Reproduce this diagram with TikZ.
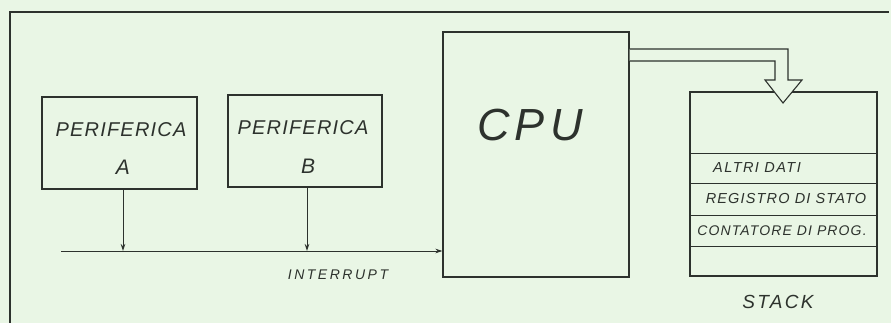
\documentclass[tikz,border=0pt]{standalone}
\usepackage{fontspec}
\usetikzlibrary{arrows.meta}
\newfontfamily\hand{Liberation Sans}[LetterSpace=6]
\definecolor{paper}{RGB}{233,246,229}
\definecolor{ink}{RGB}{45,50,45}
\begin{document}
\begin{tikzpicture}[x=1pt,y=-1pt,
  box/.style={draw=ink,line width=1.1pt,rectangle,inner sep=0pt},
  lbl/.style={text=ink,inner sep=0pt,font=\hand\itshape},
  sig/.style={draw=ink,line width=1pt,-{Stealth[length=7pt,width=4.5pt]}}]
\useasboundingbox (0,0) rectangle (891,323);
\fill[paper] (0,0) rectangle (891,323);
% frame
\draw[ink,line width=1.1pt] (10,323) -- (10,12) -- (889,12);
% peripherals
\node[box,minimum width=155pt,minimum height=92pt] (pa) at (119.5,143) {};
\node[box,minimum width=154pt,minimum height=92pt] (pb) at (305,141) {};
\node[lbl,font=\hand\itshape\fontsize{20}{20}\selectfont] (pat) at (121,130) {PERIFERICA};
\node[lbl,font=\hand\itshape\fontsize{21}{21}\selectfont] (paa) at (123,167) {A};
\node[lbl,font=\hand\itshape\fontsize{20}{20}\selectfont] (pbt) at (303,128) {PERIFERICA};
\node[lbl,font=\hand\itshape\fontsize{21}{21}\selectfont] (pbb) at (308,166) {B};
% CPU
\node[box,minimum width=186pt,minimum height=245pt] (cpu) at (536,154.5) {};
\node[lbl,font=\hand\itshape\fontsize{45}{45}\selectfont\addfontfeature{LetterSpace=12}] (cput) at (530,125) {CPU};
% stack
\node[box,minimum width=187pt,minimum height=184pt] (st) at (783.5,184) {};
\foreach \yy/\nm in {153/d1,183/d2,215/d3,246/d4}{
  \coordinate (\nm) at (690,\yy);
  \draw[ink,line width=0.9pt] (\nm) -- (\nm -| st.east);
}
\node[lbl,font=\hand\itshape\fontsize{14.5}{14.5}\selectfont\addfontfeature{LetterSpace=10},anchor=west] (r1) at (713,168) {ALTRI DATI};
\node[lbl,font=\hand\itshape\fontsize{14.5}{14.5}\selectfont\addfontfeature{LetterSpace=8}] (r2) at (786,199) {REGISTRO DI STATO};
\node[lbl,font=\hand\itshape\fontsize{14}{14}\selectfont\addfontfeature{LetterSpace=8}] (r3) at (782,231) {CONTATORE DI PROG.};
\node[lbl,font=\hand\itshape\fontsize{19}{19}\selectfont\addfontfeature{LetterSpace=12}] (stt) at (778,302) {STACK};
% bus
\coordinate (busL) at (61,251);
\coordinate (ja) at (123,251);
\coordinate (jb) at (307,251);
\draw[sig] (busL) -- (busL -| cpu.west);
\draw[sig] (pa.south -| ja) -- (ja);
\draw[sig] (pb.south -| jb) -- (jb);
\node[lbl,font=\hand\itshape\fontsize{14}{14}\selectfont\addfontfeature{LetterSpace=18}] (irq) at (338,275) {INTERRUPT};
% hollow arrow CPU -> stack
\draw[ink,line width=1.1pt,fill=paper,line join=miter]
  (cpu.east |- 0,49) -- (788,49) -- (788,80) -- (802,80) -- (783,103)
  -- (765,80) -- (775,80) -- (775,61) -- (cpu.east |- 0,61);
\end{tikzpicture}
\end{document}
